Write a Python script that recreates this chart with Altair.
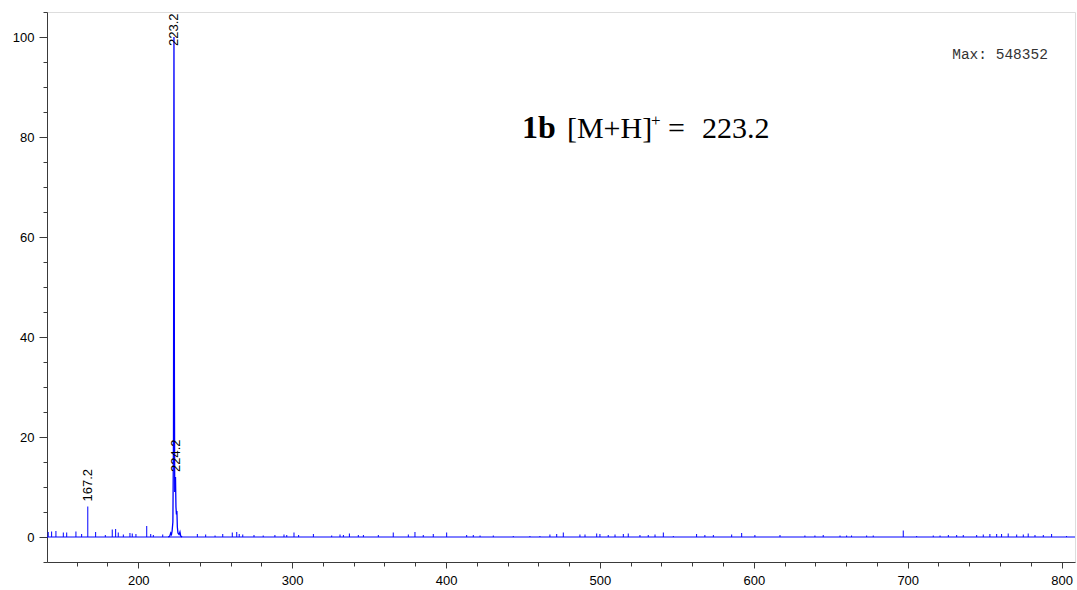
import altair as alt
import pandas as pd

# ---------------- data ----------------
x_domain = [140.7, 808.7]
y_domain = [-5, 105]

# small baseline spikes (m/z, relative intensity %)
noise_mz = [141.5, 143.7, 146.5, 151.3, 153.5, 159.5, 163.2, 167.2, 172.3, 178.6,
            183.1, 185.3, 187.0, 190.3, 194.6, 196.1, 198.5, 205.5, 208.1, 209.8,
            215.9, 238.4, 243.8, 249.9, 254.9, 261.1, 264.0, 265.6, 267.9, 275.2,
            281.2, 288.8, 294.7, 296.5, 301.2, 304.2, 313.8, 325.7, 331.1, 333.3,
            337.2, 343.0, 346.3, 356.0, 365.7, 375.5, 379.8, 385.2, 391.7, 400.4,
            413.4, 417.7, 422.1, 430.7, 443.7, 454.5, 461.0, 467.5, 471.9, 476.2,
            487.0, 490.3, 497.9, 500.0, 505.4, 509.8, 515.2, 518.4, 526.0, 531.4,
            535.8, 541.2, 547.7, 562.8, 568.2, 573.7, 585.6, 592.1, 600.7, 617.0,
            633.2, 639.7, 645.1, 656.0, 660.3, 663.5, 673.3, 677.6, 697.1, 705.8,
            716.6, 721.0, 726.4, 731.8, 736.1, 744.8, 749.1, 753.4, 757.8, 761.0,
            765.3, 770.8, 775.1, 778.3, 782.7, 788.1, 793.5, 803.2]
noise_h = [1.0, 1.1, 1.2, 0.9, 0.9, 1.1, 0.6, 6.1, 1.0, 0.4,
           1.5, 1.6, 0.9, 0.5, 0.8, 0.7, 0.6, 2.2, 0.6, 0.4,
           0.5, 0.6, 0.5, 0.3, 0.6, 0.9, 1.0, 0.6, 0.5, 0.4,
           0.3, 0.4, 0.5, 0.4, 0.9, 0.4, 0.6, 0.3, 0.5, 0.4,
           0.7, 0.4, 0.4, 0.4, 0.9, 0.5, 1.0, 0.4, 0.6, 0.9,
           0.4, 0.4, 0.3, 0.3, 0.2, 0.2, 0.2, 0.5, 0.6, 0.9,
           0.5, 0.5, 0.7, 0.6, 0.4, 0.5, 0.6, 0.7, 0.4, 0.4,
           0.5, 0.9, 0.2, 0.6, 0.4, 0.4, 0.5, 0.8, 0.4, 0.4,
           0.3, 0.3, 0.4, 0.3, 0.3, 0.3, 0.3, 0.3, 1.3, 0.2,
           0.3, 0.3, 0.4, 0.4, 0.4, 0.4, 0.5, 0.6, 0.6, 0.6,
           0.7, 0.5, 0.5, 0.7, 0.4, 0.4, 0.6, 0.2]

# molecular ion cluster profile
cluster_mz = [219.5, 220.5, 221.1, 221.6, 222.0, 222.5, 222.9, 223.2, 223.5, 223.7,
              224.0, 224.2, 224.5, 224.8, 225.1, 225.4, 225.8, 226.5, 227.1, 227.6, 228.5]
cluster_h = [0.0, 0.2, 0.8, 0.5, 1.2, 3.0, 20.0, 100.0, 30.0, 9.0,
             10.0, 12.0, 6.0, 4.5, 5.2, 2.0, 0.8, 0.5, 1.0, 0.2, 0.0]

label_mz = [167.2, 223.2, 224.2]
label_h = [6.1, 100.0, 12.0]
label_text = ["167.2", "223.2", "224.2"]

title_anchor_mz = [449.3]
title_anchor_h = [79.8]
max_anchor_mz = [791.1]
max_anchor_h = [96.4]
max_text = ["Max: 548352"]

# ---------------- tables ----------------
noise_df = pd.DataFrame({"mz": noise_mz, "h": noise_h, "zero": 0.0})
cluster_df = pd.DataFrame({"mz": cluster_mz, "h": cluster_h})
label_df = pd.DataFrame({"mz": label_mz, "h": label_h, "t": label_text})
base_df = pd.DataFrame({"x0": [x_domain[0]], "x1": [x_domain[1]], "y": [0.0]})
title_df = pd.DataFrame({"mz": title_anchor_mz, "h": title_anchor_h})
max_df = pd.DataFrame({"mz": max_anchor_mz, "h": max_anchor_h, "t": max_text})

AXIS_COLOR = "#3a3a3a"
x_scale = alt.Scale(domain=x_domain, nice=False, zero=False)
y_scale = alt.Scale(domain=y_domain, nice=False, zero=False)

x_axis = alt.Axis(
    values=list(range(160, 801, 20)),
    labelExpr="datum.value % 100 === 0 ? datum.label : ''",
    format="d", title=None, grid=False,
    tickSize={"condition": {"test": "datum.value % 100 === 0", "value": 6}, "value": 4},
    labelPadding=6, labelFont="Liberation Sans", labelFontSize=13, labelColor="#000000",
    domainColor=AXIS_COLOR, tickColor=AXIS_COLOR, labelFlush=False, labelOverlap=False,
)
y_axis = alt.Axis(
    values=list(range(-5, 106, 5)),
    labelExpr="datum.value % 20 === 0 ? datum.label : ''",
    format="d", title=None, grid=False,
    tickSize={"condition": {"test": "datum.value % 20 === 0", "value": 8}, "value": 4},
    labelPadding=5, labelFont="Liberation Sans", labelFontSize=13, labelColor="#000000",
    domainColor=AXIS_COLOR, tickColor=AXIS_COLOR, labelFlush=False, labelOverlap=False,
)


def X(field):
    return alt.X(field, type="quantitative", scale=x_scale, axis=x_axis)


def Y(field):
    return alt.Y(field, type="quantitative", scale=y_scale, axis=y_axis)


BLUE = "#0000ff"

baseline = alt.Chart(base_df).mark_rule(color=BLUE, strokeWidth=1).encode(
    x=X("x0"), x2="x1", y=Y("y")
)
spikes = alt.Chart(noise_df).mark_rule(color=BLUE, strokeWidth=1).encode(
    x=X("mz"), y=Y("zero"), y2="h"
)
cluster = alt.Chart(cluster_df).mark_line(color=BLUE, strokeWidth=1.3).encode(
    x=X("mz"), y=Y("h"), order="mz:Q"
)
labels = alt.Chart(label_df).transform_calculate(
    ly="min(datum.h, 97.2)"
).mark_text(
    angle=270, align="left", baseline="middle", dx=5,
    font="Liberation Sans", fontSize=13, color="#000000"
).encode(x=X("mz"), y=Y("ly"), text="t")

serif = "Liberation Serif"
t1 = alt.Chart(title_df).mark_text(
    text="1b", font=serif, fontSize=32, fontWeight="bold", align="left",
    baseline="alphabetic", color="#000000"
).encode(x=X("mz"), y=Y("h"))
t2 = alt.Chart(title_df).mark_text(
    text="[M+H]", font=serif, fontSize=30, align="left", dx=45,
    baseline="alphabetic", color="#000000"
).encode(x=X("mz"), y=Y("h"))
t3 = alt.Chart(title_df).mark_text(
    text="+", font=serif, fontSize=17, align="left", dx=129, dy=-12,
    baseline="alphabetic", color="#000000"
).encode(x=X("mz"), y=Y("h"))
t4 = alt.Chart(title_df).mark_text(
    text="=", font=serif, fontSize=30, align="left", dx=146,
    baseline="alphabetic", color="#000000"
).encode(x=X("mz"), y=Y("h"))
t5 = alt.Chart(title_df).mark_text(
    text="223.2", font=serif, fontSize=30, align="left", dx=180,
    baseline="alphabetic", color="#000000"
).encode(x=X("mz"), y=Y("h"))

max_label = alt.Chart(max_df).mark_text(
    font="Liberation Mono", fontSize=14.5, align="right", baseline="middle", color="#333333"
).encode(x=X("mz"), y=Y("h"), text="t")

chart = alt.layer(
    baseline, spikes, cluster, labels, t1, t2, t3, t4, t5, max_label
).properties(
    width=1028, height=550,
    padding={"left": 47, "top": 12, "right": 2, "bottom": 28},
    autosize=alt.AutoSizeParams(type="none"),
).configure_view(strokeWidth=0).configure(background="white")

chart.save("out.html", embed_options={"renderer": "svg", "actions": False})
